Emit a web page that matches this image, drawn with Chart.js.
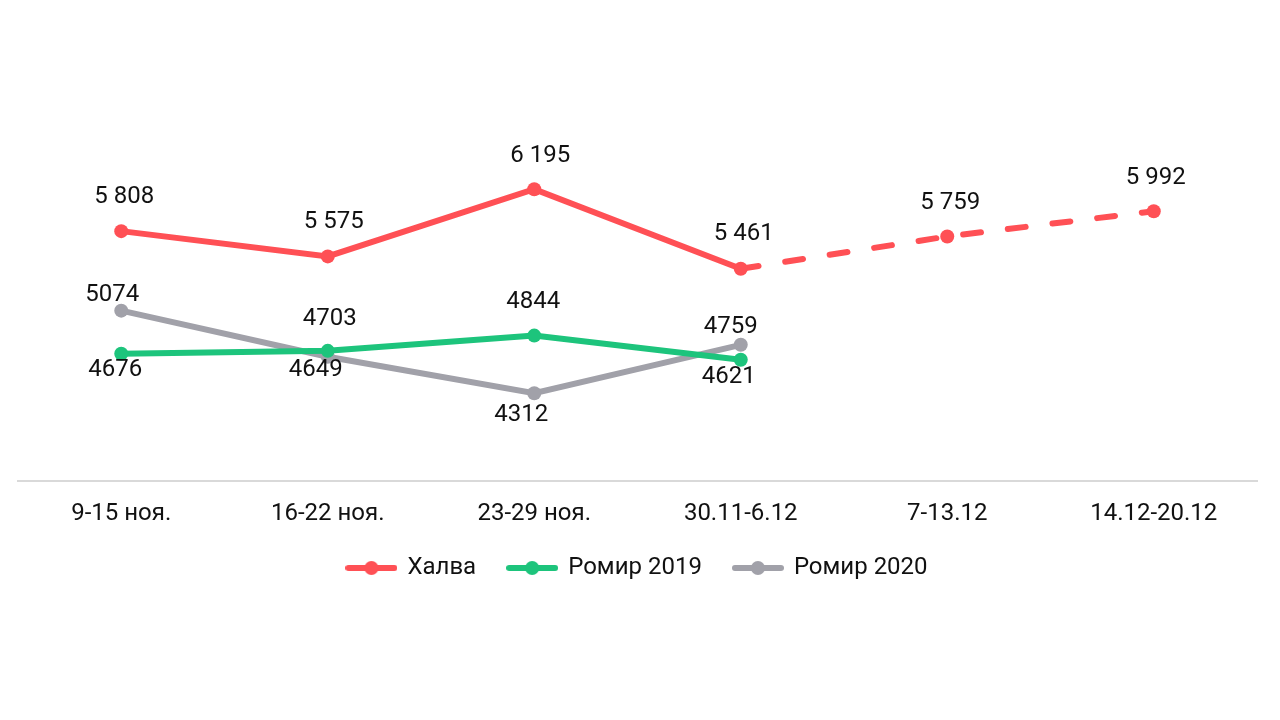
<!DOCTYPE html>
<html>
<head>
<meta charset="utf-8">
<script src="https://cdn.jsdelivr.net/npm/chart.js"></script>
<style>
  html, body { margin: 0; padding: 0; background: #fff; }
  #wrap { width: 1280px; height: 720px; }
</style>
</head>
<body>
<div id="wrap"><canvas id="weekChart" width="1280" height="720"></canvas></div>
<script>
// data
const weeks = ["9-15 ноя.", "16-22 ноя.", "23-29 ноя.", "30.11-6.12", "7-13.12", "14.12-20.12"];
const halva = [5808, 5575, 6195, 5461, 5759, 5992];
const romir2019 = [4676, 4703, 4844, 4621, null, null];
const romir2020 = [5074, 4649, 4312, 4759, null, null];

const RED = "#ff5055";
const GREEN = "#1dc47c";
const GREY = "#a1a1a9";

function fmtSpace(v) {
  return String(v).replace(/\B(?=(\d{3})+(?!\d))/g, " ");
}

// legend icon: short line with a dot in the middle
function legendIcon(color) {
  const c = document.createElement("canvas");
  c.width = 52; c.height = 16;
  const g = c.getContext("2d");
  g.strokeStyle = color;
  g.lineWidth = 6;
  g.lineCap = "round";
  g.beginPath(); g.moveTo(3, 8); g.lineTo(49, 8); g.stroke();
  g.fillStyle = color;
  g.beginPath(); g.arc(26, 8, 7, 0, Math.PI * 2); g.fill();
  return c;
}

// draws value labels next to each point
const pointLabels = {
  id: "pointLabels",
  afterDatasetsDraw(chart) {
    const ctx = chart.ctx;
    ctx.save();
    ctx.font = "24px Roboto";
    ctx.fillStyle = "#111";
    ctx.textAlign = "center";
    ctx.textBaseline = "middle";
    chart.data.datasets.forEach((ds, i) => {
      const meta = chart.getDatasetMeta(i);
      meta.data.forEach((pt, j) => {
        const v = ds.data[j];
        if (v == null) return;
        const off = ds.labelOffsets[j];
        const txt = ds.spaced ? fmtSpace(v) : String(v);
        ctx.fillText(txt, pt.x + off[0], pt.y + off[1]);
      });
    });
    ctx.restore();
  }
};

new Chart(document.getElementById("weekChart"), {
  type: "line",
  data: {
    labels: weeks,
    datasets: [
      {
        label: "Халва",
        data: halva,
        borderColor: RED,
        backgroundColor: RED,
        borderWidth: 6,
        pointRadius: 7,
        pointHoverRadius: 7,
        pointBorderWidth: 0,
        spaced: true,
        labelOffsets: [[3, -34], [6, -34], [6, -33], [3, -35], [3, -33], [2, -33]],
        segment: {
          borderDash: ctx => ctx.p0DataIndex >= 3 ? [18, 27] : undefined,
          borderCapStyle: ctx => ctx.p0DataIndex >= 3 ? "round" : "butt"
        }
      },
      {
        label: "Ромир 2019",
        data: romir2019,
        borderColor: GREEN,
        backgroundColor: GREEN,
        borderWidth: 6,
        pointRadius: 7,
        pointHoverRadius: 7,
        pointBorderWidth: 0,
        labelOffsets: [[-6, 16], [2, -32], [-1, -34], [-12, 17]]
      },
      {
        label: "Ромир 2020",
        data: romir2020,
        borderColor: GREY,
        backgroundColor: GREY,
        borderWidth: 6,
        pointRadius: 7,
        pointHoverRadius: 7,
        pointBorderWidth: 0,
        labelOffsets: [[-9, -16], [-12, 13], [-13, 22], [-10, -18]]
      }
    ]
  },
  options: {
    responsive: false,
    animation: false,
    layout: { padding: { top: 102, left: 18, right: 23, bottom: 130 } },
    scales: {
      x: {
        offset: true,
        grid: { display: false, drawTicks: false },
        border: { display: true, color: "#d9d9d9", width: 2 },
        ticks: { color: "#111", font: { family: "Roboto", size: 24 }, padding: 18, maxRotation: 0 },
        afterFit(scale) { scale.height -= 22; }
      },
      y: {
        display: false,
        min: 3500,
        max: 7000
      }
    },
    plugins: {
      tooltip: { enabled: false },
      legend: {
        position: "bottom",
        labels: {
          usePointStyle: true,
          pointStyleWidth: 48,
          color: "#111",
          font: { family: "Roboto", size: 24 },
          padding: 32,
          generateLabels(chart) {
            return chart.data.datasets.map((ds, i) => ({
              text: ds.label,
              pointStyle: legendIcon(ds.borderColor),
              fillStyle: ds.borderColor,
              strokeStyle: ds.borderColor,
              lineWidth: 0,
              fontColor: "#111",
              datasetIndex: i,
              hidden: false
            }));
          }
        }
      }
    }
  },
  plugins: [pointLabels]
});
</script>
</body>
</html>
